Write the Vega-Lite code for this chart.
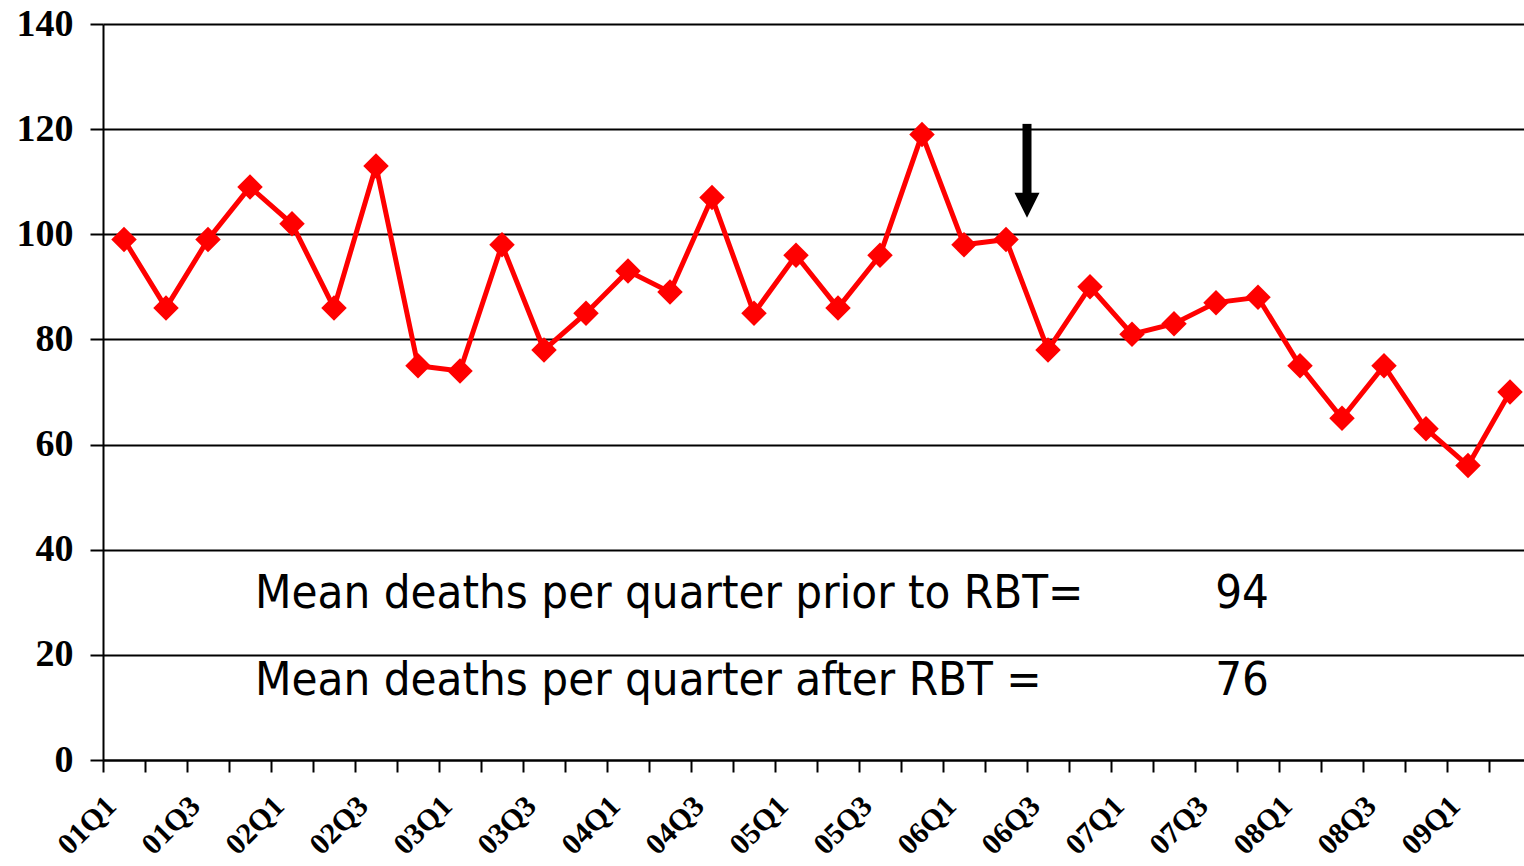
{
  "$schema": "https://vega.github.io/schema/vega-lite/v6.json",
  "width": 1428,
  "height": 736,
  "autosize": {"type": "none"},
  "padding": {"left": 103, "top": 24, "right": 0, "bottom": 106},
  "background": "white",
  "config": {"view": {"stroke": null}},
  "datasets": {
    "deaths": [
      {"q": "01Q1", "deaths": 99}, {"q": "01Q2", "deaths": 86}, {"q": "01Q3", "deaths": 99}, {"q": "01Q4", "deaths": 109},
      {"q": "02Q1", "deaths": 102}, {"q": "02Q2", "deaths": 86}, {"q": "02Q3", "deaths": 113}, {"q": "02Q4", "deaths": 75},
      {"q": "03Q1", "deaths": 74}, {"q": "03Q2", "deaths": 98}, {"q": "03Q3", "deaths": 78}, {"q": "03Q4", "deaths": 85},
      {"q": "04Q1", "deaths": 93}, {"q": "04Q2", "deaths": 89}, {"q": "04Q3", "deaths": 107}, {"q": "04Q4", "deaths": 85},
      {"q": "05Q1", "deaths": 96}, {"q": "05Q2", "deaths": 86}, {"q": "05Q3", "deaths": 96}, {"q": "05Q4", "deaths": 119},
      {"q": "06Q1", "deaths": 98}, {"q": "06Q2", "deaths": 99}, {"q": "06Q3", "deaths": 78}, {"q": "06Q4", "deaths": 90},
      {"q": "07Q1", "deaths": 81}, {"q": "07Q2", "deaths": 83}, {"q": "07Q3", "deaths": 87}, {"q": "07Q4", "deaths": 88},
      {"q": "08Q1", "deaths": 75}, {"q": "08Q2", "deaths": 65}, {"q": "08Q3", "deaths": 75}, {"q": "08Q4", "deaths": 63},
      {"q": "09Q1", "deaths": 56}, {"q": "09Q2", "deaths": 70}
    ],
    "labels": [
      {"q": "01Q4", "y": 28.9, "text": "Mean deaths per quarter prior to RBT="},
      {"q": "01Q4", "y": 12.4, "text": "Mean deaths per quarter after RBT ="}
    ],
    "means": [
      {"q": "07Q3", "y": 28.9, "text": "94"},
      {"q": "07Q3", "y": 12.4, "text": "76"}
    ],
    "arrow": [
      {"q": "06Q2", "top": 121, "base": 107, "head": 105.5}
    ]
  },
  "encoding": {
    "x": {
      "field": "q",
      "type": "ordinal",
      "sort": null,
      "scale": {"paddingInner": 0, "paddingOuter": 0},
      "axis": {
        "title": null,
        "tickBand": "extent",
        "domainColor": "black",
        "domainWidth": 2,
        "tickColor": "black",
        "tickWidth": 2,
        "tickSize": 12,
        "grid": false,
        "labelAngle": -45,
        "labelAlign": "right",
        "labelBaseline": "middle",
        "labelOffset": -13,
        "labelPadding": 29,
        "labelFont": "Liberation Serif",
        "labelFontWeight": "bold",
        "labelFontSize": 30,
        "labelColor": "black",
        "labelOverlap": false,
        "labelExpr": "(substring(datum.label,3,4) == '1' || substring(datum.label,3,4) == '3') ? datum.label : ''"
      }
    }
  },
  "layer": [
    {
      "data": {"name": "deaths"},
      "mark": {"type": "line", "color": "#FF0000", "strokeWidth": 5},
      "encoding": {
        "y": {
          "field": "deaths",
          "type": "quantitative",
          "scale": {"domain": [0, 140], "nice": false},
          "axis": {
            "title": null,
            "values": [0, 20, 40, 60, 80, 100, 120, 140],
            "domainColor": "black",
            "domainWidth": 2,
            "tickColor": "black",
            "tickWidth": 2,
            "tickSize": 13,
            "grid": true,
            "gridColor": "black",
            "gridWidth": 2,
            "gridOpacity": 1,
            "labelFont": "Liberation Serif",
            "labelFontWeight": "bold",
            "labelFontSize": 38,
            "labelColor": "black",
            "labelPadding": 17
          }
        }
      }
    },
    {
      "data": {"name": "deaths"},
      "mark": {"type": "point", "shape": "diamond", "filled": true, "color": "#FF0000", "opacity": 1, "size": 650},
      "encoding": {"y": {"field": "deaths", "type": "quantitative"}}
    },
    {
      "data": {"name": "arrow"},
      "mark": {"type": "rule", "color": "black", "strokeWidth": 9},
      "encoding": {
        "x": {"field": "q", "type": "ordinal", "bandPosition": 1.0},
        "y": {"field": "top", "type": "quantitative"},
        "y2": {"field": "base"}
      }
    },
    {
      "data": {"name": "arrow"},
      "mark": {"type": "point", "shape": "M-1,-1L1,-1L0,1Z", "filled": true, "color": "black", "opacity": 1, "size": 625},
      "encoding": {
        "x": {"field": "q", "type": "ordinal", "bandPosition": 1.0},
        "y": {"field": "head", "type": "quantitative"}
      }
    },
    {
      "data": {"name": "labels"},
      "mark": {"type": "text", "align": "left", "baseline": "alphabetic", "font": "DejaVu Sans Condensed, DejaVu Sans", "fontSize": 47, "color": "black"},
      "encoding": {
        "x": {"field": "q", "type": "ordinal", "bandPosition": 0.62},
        "y": {"field": "y", "type": "quantitative"},
        "text": {"field": "text"}
      }
    },
    {
      "data": {"name": "means"},
      "mark": {"type": "text", "align": "left", "baseline": "alphabetic", "font": "DejaVu Sans Condensed, DejaVu Sans", "fontSize": 47, "color": "black"},
      "encoding": {
        "x": {"field": "q", "type": "ordinal", "bandPosition": 0.48},
        "y": {"field": "y", "type": "quantitative"},
        "text": {"field": "text"}
      }
    }
  ]
}
